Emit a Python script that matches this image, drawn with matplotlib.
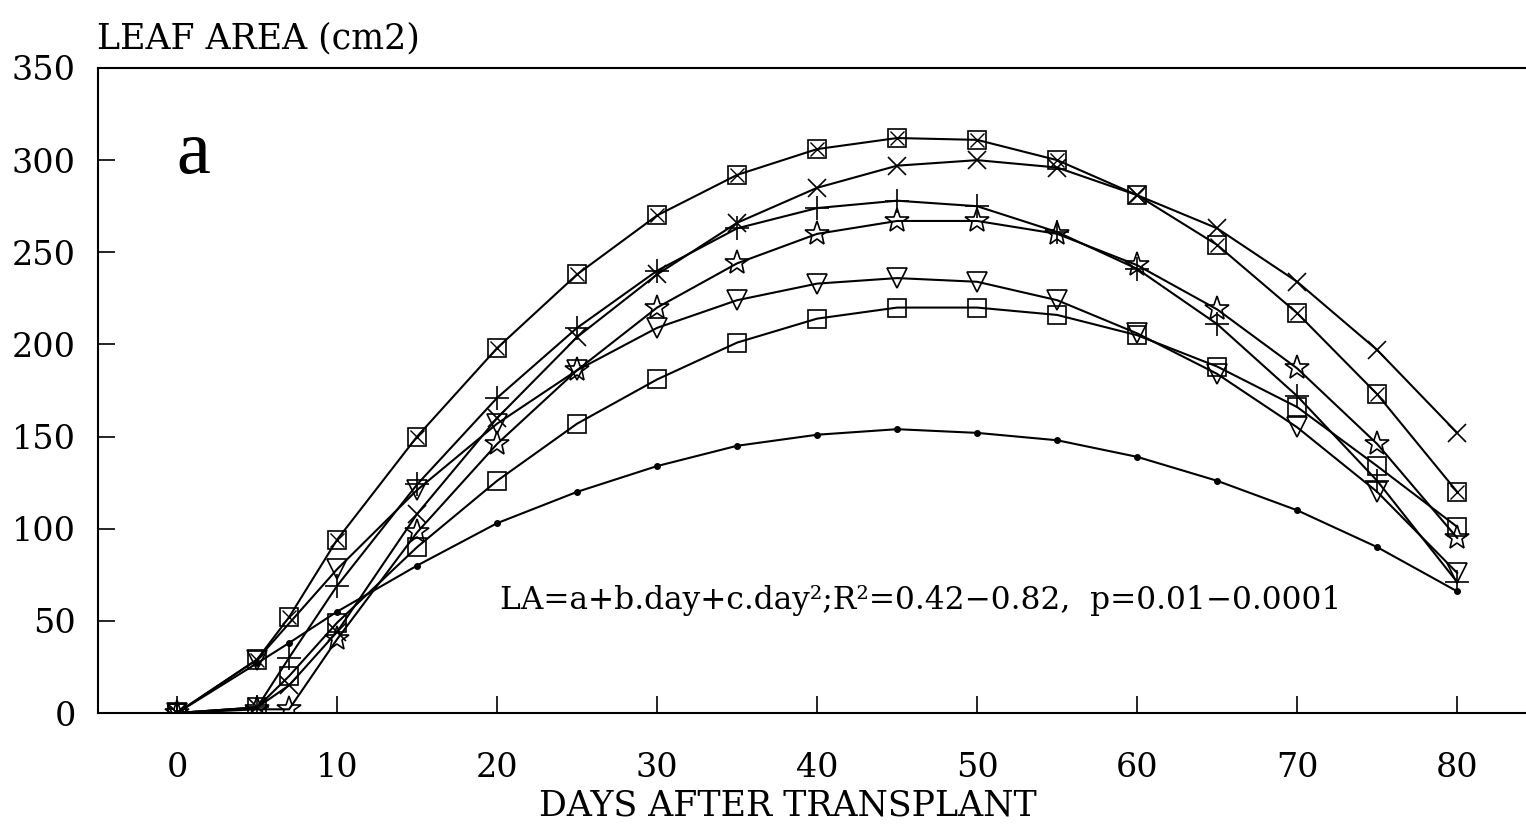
import numpy as np
import matplotlib
matplotlib.use('Agg')
from matplotlib import pyplot as plt

# days after transplant
days = [0, 5, 7, 10, 15, 20, 25, 30, 35, 40, 45, 50, 55, 60, 65, 70, 75, 80]
daysNo7 = [0, 5, 10, 15, 20, 25, 30, 35, 40, 45, 50, 55, 60, 65, 70, 75, 80]

# leaf area per treatment (cm2)
boxCross = [0, 29, 52, 94, 150, 198, 238, 270, 292, 306, 312, 311, 300, 281, 254, 217, 173, 120]
cross = [0, 3, 15, 44, 108, 160, 204, 238, 266, 285, 297, 300, 296, 281, 263, 234, 197, 152]
plus = [0, 3, 30, 69, 124, 171, 209, 240, 263, 274, 278, 275, 261, 241, 211, 172, 126, 71]
star = [0, 2, 2, 40, 98, 146, 186, 220, 244, 260, 267, 267, 260, 243, 219, 187, 146, 95]
triangle = [0, 29, 78, 121, 157, 186, 209, 224, 233, 236, 234, 224, 206, 184, 155, 120, 76]
square = [0, 3, 20, 49, 90, 126, 157, 181, 201, 214, 220, 220, 216, 205, 188, 166, 134, 101]
dot = [0, 27, 38, 55, 80, 103, 120, 134, 145, 151, 154, 152, 148, 139, 126, 110, 90, 66]

xticks = [0, 10, 20, 30, 40, 50, 60, 70, 80]
yticks = [0, 50, 100, 150, 200, 250, 300, 350]

labelFont = 'DejaVu Serif'
textFont = 'DejaVu Serif'

fig = plt.figure(figsize=(15.26, 8.4), dpi=100)
ax = fig.add_axes([98/1526, 127/840, 1 - 98/1526, 645/840])

lw = 1.5
ms = 13
ax.plot(days, boxCross, color='black', lw=lw, marker='s', ms=ms, mfc='none', mec='black', mew=1.2)
ax.plot(days, boxCross, color='black', lw=0, marker='x', ms=ms*0.75, mec='black', mew=1.0)
ax.plot(days, cross, color='black', lw=lw, marker='x', ms=ms, mec='black', mew=1.2)
ax.plot(days, plus, color='black', lw=lw, marker='+', ms=ms*1.3, mec='black', mew=1.2)
ax.plot(days, star, color='black', lw=lw, marker='*', ms=ms*1.4, mfc='none', mec='black', mew=1.2)
ax.plot(daysNo7, triangle, color='black', lw=lw, marker='v', ms=ms*1.1, mfc='none', mec='black', mew=1.2)
ax.plot(days, square, color='black', lw=lw, marker='s', ms=ms, mfc='none', mec='black', mew=1.2)
ax.plot(days, dot, color='black', lw=lw, marker='o', ms=4, mfc='black', mec='black')

ax.set_xlim(-4.94, 84.3)
ax.set_ylim(0, 350)
ax.set_xticks(xticks)
ax.set_yticks(yticks)
ax.set_xticklabels([str(t) for t in xticks], fontfamily=labelFont, fontsize=24)
ax.set_yticklabels([str(t) for t in yticks], fontfamily=labelFont, fontsize=24)
ax.tick_params(axis='both', direction='in', length=12, width=1.2)
ax.tick_params(axis='x', pad=28)
ax.tick_params(axis='y', pad=16)

for side in ['left', 'bottom', 'top']:
    ax.spines[side].set_linewidth(1.5)
ax.spines['right'].set_visible(False)

ax.set_xlabel('DAYS AFTER TRANSPLANT', fontfamily=labelFont, fontsize=25, va='center')
ax.xaxis.set_label_coords((788 - 98) / 1428, -(805 - 713) / 645)
fig.text(97/1526, 1 - 38/840, 'LEAF AREA (cm2)', fontfamily=labelFont, fontsize=25,
         ha='left', va='center')

ax.text((193 - 98) / 1428, (713 - 155) / 645, 'a', transform=ax.transAxes,
        fontfamily='Liberation Serif', fontsize=55, ha='center', va='center')
ax.text((500 - 98) / 1428, (713 - 600) / 645, 'LA=a+b.day+c.day²;R²=0.42\u22120.82,  p=0.01\u22120.0001',
        transform=ax.transAxes, fontfamily=textFont, fontsize=22.5, ha='left', va='center')

fig.savefig('out.png', dpi=100)
